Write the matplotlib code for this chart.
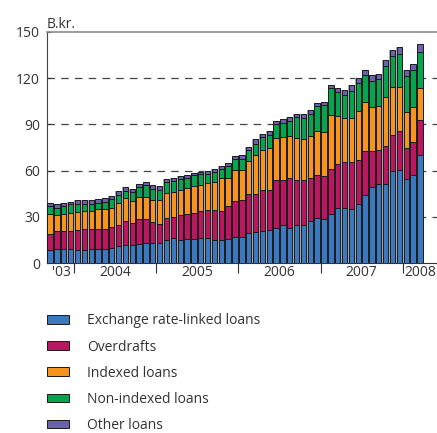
import numpy as np
import matplotlib
matplotlib.use("Agg")
import matplotlib.pyplot as plt

plt.rcParams['font.family'] = ['Open Sans', 'DejaVu Sans']

# monthly values, Sep 2003 - Mar 2008 (B.kr.)
exchange = [8.6, 8.8, 8.8, 8.8, 8.4, 8.4, 8.8, 9.1, 9.3, 9.5, 11.0, 11.4, 11.4, 12.3,
            13.0, 12.7, 13.2, 14.9, 16.0, 14.9, 15.5, 15.8, 16.4, 16.4, 14.9, 14.9,
            15.5, 16.8, 16.8, 19.2, 19.9, 20.7, 21.4, 23.0, 24.7, 22.9, 24.6, 25.0,
            27.2, 28.9, 28.3, 31.6, 36.0, 35.6, 35.3, 38.4, 44.0, 49.4, 51.6, 51.6,
            59.8, 60.7, 54.4, 57.4, 70.4]
overdrafts = [10.4, 11.7, 11.9, 11.9, 13.0, 13.4, 13.0, 13.3, 13.1, 13.6, 13.8, 15.8,
              14.3, 16.0, 15.3, 14.1, 12.1, 14.5, 14.0, 16.0, 16.0, 16.8, 17.3, 17.9,
              19.4, 18.8, 21.4, 23.5, 24.2, 25.9, 25.2, 26.6, 26.2, 31.0, 29.5, 32.0,
              29.6, 28.8, 27.7, 28.1, 28.0, 29.4, 28.6, 29.9, 30.0, 28.8, 29.0, 23.6,
              22.0, 24.4, 23.6, 24.8, 20.3, 21.2, 22.2]
indexed = [13.0, 10.8, 10.8, 11.5, 11.8, 11.7, 11.7, 12.4, 12.8, 12.9, 14.3, 14.7,
           14.4, 14.6, 14.6, 14.0, 15.5, 16.1, 16.2, 16.8, 17.5, 17.3, 17.2, 17.7,
           18.2, 21.6, 18.5, 20.2, 19.7, 21.4, 25.3, 26.4, 27.3, 27.4, 27.4, 27.6,
           27.0, 27.0, 27.6, 28.7, 28.7, 35.4, 30.6, 28.8, 29.1, 31.2, 31.7, 28.2,
           28.2, 31.7, 30.8, 28.7, 23.3, 22.6, 21.3]
nonindexed = [4.7, 4.7, 5.4, 6.0, 5.4, 5.1, 5.1, 4.3, 4.5, 5.4, 5.1, 4.7, 5.9, 6.5,
              7.6, 7.5, 6.9, 7.2, 7.1, 7.1, 6.5, 7.1, 6.7, 6.1, 6.8, 5.6, 7.5, 7.3,
              7.1, 6.7, 7.1, 7.9, 8.0, 8.6, 9.5, 9.7, 13.6, 13.6, 14.0, 16.2, 17.8,
              17.3, 15.9, 15.0, 17.6, 18.6, 17.1, 17.3, 17.4, 19.9, 20.5, 21.6, 23.3,
              23.8, 23.0]
other = [2.0, 2.0, 2.0, 1.7, 2.2, 2.0, 2.0, 2.3, 2.2, 2.2, 2.4, 2.6, 2.3, 2.0, 2.0,
         2.4, 2.2, 2.1, 2.0, 2.0, 1.9, 1.7, 1.5, 1.7, 1.7, 1.9, 1.9, 2.0, 2.1, 2.3,
         2.7, 2.2, 2.6, 2.4, 2.2, 2.6, 2.1, 2.5, 2.6, 1.9, 1.7, 1.6, 2.8, 3.2, 3.3,
         3.3, 3.6, 3.3, 3.4, 3.9, 3.7, 4.3, 4.3, 4.3, 5.4]

series = [exchange, overdrafts, indexed, nonindexed, other]
labels = ['Exchange rate-linked loans', 'Overdrafts', 'Indexed loans',
          'Non-indexed loans', 'Other loans']
colors = ['#3b78bd', '#bb1760', '#f7941e', '#07a450', '#6a62ad']

year_labels = ["'03", '2004', '2005', '2006', '2007', '2008']
year_label_pos = [1.6, 9.5, 21.5, 33.5, 45.5, 54.0]
year_bounds = [3.5, 15.5, 27.5, 39.5, 51.5]

x = np.arange(len(exchange))

fig = plt.figure(figsize=(4.37, 4.33), dpi=100)
ax = fig.add_axes([0.1076, 0.3926, 0.8924, 0.5335])

# grey shadow behind each stack
totals = np.sum(series, axis=0)
ax.bar(x, totals, width=0.98, color='#a8a8a8', zorder=2, linewidth=0)

bottom = np.zeros(len(x))
for vals, lab, col in zip(series, labels, colors):
    ax.bar(x, vals, bottom=bottom, width=0.78, color=col, edgecolor='#1a1a1a',
           linewidth=0.7, label=lab, zorder=3)
    bottom += np.array(vals)

ax.set_xlim(-0.45, 56.5)
ax.set_ylim(0, 150)
ax.set_yticks([0, 30, 60, 90, 120, 150])
ax.tick_params(axis='y', length=3, direction='in', labelsize=10, pad=5,
               colors='#333333')
for yv in [30, 60, 90, 120]:
    ax.axhline(yv, color='#444444', linewidth=0.9, dashes=(6, 5), zorder=1)

ax.set_xticks(year_bounds)
ax.set_xticklabels([])
ax.tick_params(axis='x', which='major', length=7, direction='out', color='#333333')
ax.set_xticks(year_label_pos, minor=True)
ax.set_xticklabels(year_labels, minor=True)
ax.tick_params(axis='x', which='minor', length=0, labelsize=10, pad=1.5,
               labelcolor='#333333')

ax.spines['right'].set_visible(False)
ax.spines['top'].set_color('#8a8a8a')
ax.spines['top'].set_linewidth(1.2)
ax.spines['left'].set_color('#444444')
ax.spines['bottom'].set_color('#333333')

ax.text(0.0, 1.0, 'B.kr.', transform=ax.transAxes, ha='left', va='bottom',
        fontsize=10, color='#333333')

handles, labs = ax.get_legend_handles_labels()
fig.legend(handles, labs, loc='upper left', bbox_to_anchor=(0.1076, 0.276),
           frameon=False, fontsize=10, handlelength=1.6, handleheight=0.6,
           handletextpad=1.3, labelspacing=0.8, borderpad=0, borderaxespad=0,
           labelcolor='#333333')

fig.savefig('out.png', dpi=100)
